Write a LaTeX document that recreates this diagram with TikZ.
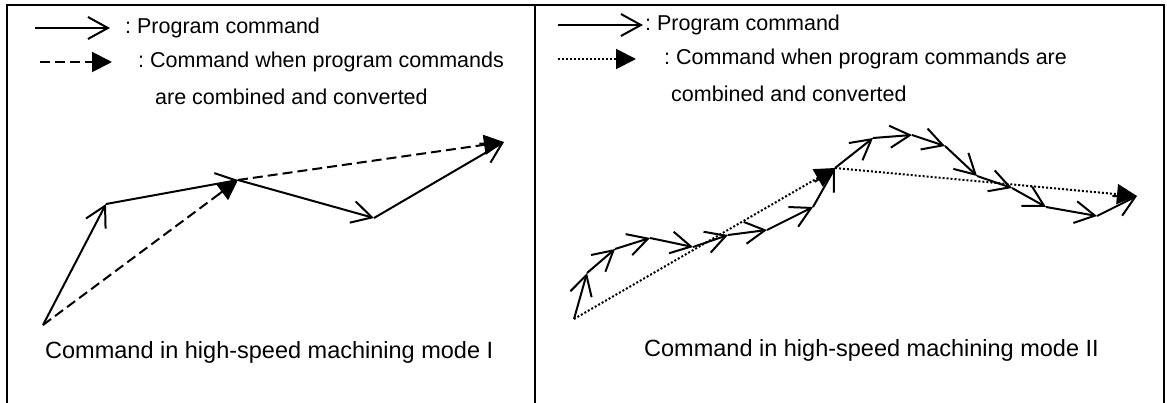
\documentclass[tikz,border=0pt]{standalone}
\usepackage{fontspec}
\setmainfont{Liberation Sans}
\usetikzlibrary{arrows.meta,positioning}
\frenchspacing

\begin{document}
\begin{tikzpicture}[
  x=1pt,y=-1pt,
  frame/.style={line width=2pt},
  prog/.style={line width=2pt,-{Straight Barb[length=20pt,width=22pt,line width=2pt]}},
  conv/.style={line width=2pt,dash pattern=on 10pt off 5pt,-{Triangle[length=20pt,width=20pt]}},
  convdot/.style={line width=2pt,dash pattern=on 2pt off 2pt,-{Triangle[length=20pt,width=20pt]}},
  lbl/.style={anchor=west,inner sep=0pt,font=\fontsize{21.5}{24}\selectfont},
  captext/.style={anchor=west,inner sep=0pt,font=\fontsize{23.5}{28}\selectfont}
]
  \useasboundingbox (0,0) rectangle (1167,403);
  % frame
  \draw[frame] (7,403) -- (7,5) -- (1164,5) -- (1164,403);
  \draw[frame] (535,5) -- (535,403);

  % legend, mode I
  \coordinate (lpa) at (35,28);
  \coordinate (lpb) at (110,28);
  \draw[prog] (lpa) -- (lpb);
  \node[lbl] (lpt) at (125,28) {: Program command};
  \coordinate (lca) at (40,62);
  \coordinate (lcb) at (112,62);
  \draw[conv] (lca) -- (lcb);
  \node[lbl] (lct) at (138,62) {: Command when program commands};
  \node[lbl] (lcu) at (155,97) {are combined and converted};

  % legend, mode II
  \coordinate (rpa) at (558,25);
  \coordinate (rpb) at (643,25);
  \draw[prog] (rpa) -- (rpb);
  \node[lbl] (rpt) at (645,25) {: Program command};
  \coordinate (rca) at (558,59);
  \coordinate (rcb) at (636,59);
  \draw[convdot] (rca) -- (rcb);
  \node[lbl] (rct) at (664,59) {: Command when program commands are};
  \node[lbl] (rcu) at (671,94) {combined and converted};

  % mode I path
  \coordinate (s) at (43,325);
  \coordinate (p1) at (106,204);
  \coordinate (p2) at (238,180);
  \coordinate (p3) at (374,218);
  \coordinate (p4) at (504,142);
  \draw[conv] (s) -- (p2);
  \draw[conv] (p2) -- (p4);
  \draw[prog] (s) -- (p1);
  \draw[prog] (p1) -- (p2);
  \draw[prog] (p2) -- (p3);
  \draw[prog] (p3) -- (p4);
  \node[captext] (capI) at (45,352) {Command in high-speed machining mode I};

  % mode II path
  \foreach \px/\py [count=\i from 0] in {574/319,587/273,615/249,650/238,
      693/247,728/235,767/230,813/207,835/168,873/138,912/135,
      945/146,977/176,1012/188,1046/207,1097/216,1137/196}
    \coordinate (r\i) at (\px,\py);
  \draw[convdot] (r0) -- (r8);
  \draw[convdot] (r8) -- (r16);
  \foreach \i [evaluate=\i as \j using int(\i+1)] in {0,...,15}
    \draw[prog] (r\i) -- (r\j);
  \node[captext] (capII) at (644,350) {Command in high-speed machining mode II};
\end{tikzpicture}
\end{document}
